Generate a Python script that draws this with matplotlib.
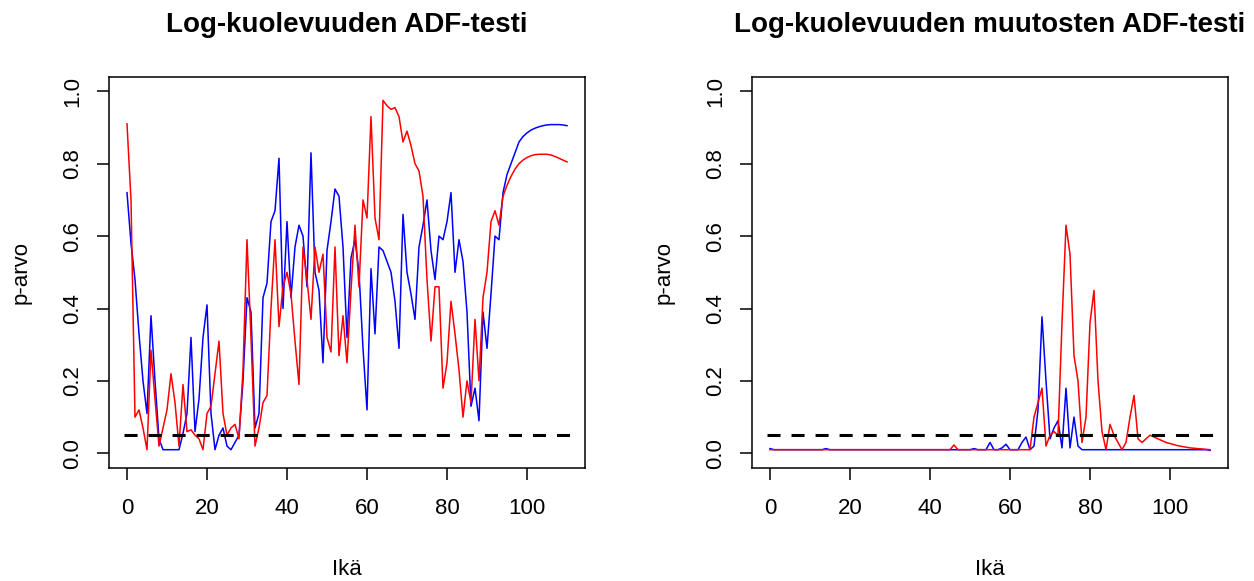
import matplotlib
matplotlib.use("Agg")
import matplotlib.pyplot as plt
import numpy as np

plt.rcParams['font.family'] = ['Liberation Sans', 'DejaVu Sans']
plt.rcParams['lines.scale_dashes'] = False

ages = np.arange(0, 111)

# Left panel: ADF p-values of log mortality
left_blue = [0.72, 0.58, 0.48, 0.33, 0.20, 0.11, 0.38, 0.20, 0.04, 0.01,
             0.01, 0.01, 0.01, 0.01, 0.055, 0.11, 0.32, 0.06, 0.15, 0.32,
             0.41, 0.11, 0.01, 0.05, 0.07, 0.02, 0.01, 0.03, 0.05, 0.20,
             0.43, 0.39, 0.07, 0.11, 0.43, 0.47, 0.64, 0.67, 0.815, 0.40,
             0.64, 0.43, 0.57, 0.63, 0.60, 0.46, 0.83, 0.50, 0.45, 0.25,
             0.56, 0.64, 0.73, 0.71, 0.57, 0.32, 0.54, 0.59, 0.50, 0.29,
             0.12, 0.51, 0.33, 0.57, 0.56, 0.53, 0.50, 0.42, 0.29, 0.66,
             0.50, 0.44, 0.37, 0.57, 0.63, 0.70, 0.56, 0.48, 0.60, 0.59,
             0.64, 0.72, 0.50, 0.59, 0.53, 0.39, 0.13, 0.18, 0.09, 0.39,
             0.29, 0.44, 0.60, 0.59, 0.72, 0.77, 0.80, 0.83, 0.86, 0.875,
             0.885, 0.893, 0.898, 0.902, 0.905, 0.907, 0.908, 0.908, 0.908, 0.907,
             0.905]
left_red = [0.91, 0.70, 0.10, 0.12, 0.07, 0.01, 0.285, 0.15, 0.02, 0.07,
            0.12, 0.22, 0.14, 0.02, 0.19, 0.06, 0.065, 0.05, 0.04, 0.01,
            0.11, 0.13, 0.22, 0.31, 0.11, 0.05, 0.07, 0.08, 0.04, 0.23,
            0.59, 0.32, 0.02, 0.07, 0.14, 0.16, 0.40, 0.59, 0.35, 0.46,
            0.50, 0.44, 0.31, 0.19, 0.57, 0.48, 0.37, 0.57, 0.50, 0.55,
            0.32, 0.28, 0.57, 0.27, 0.38, 0.25, 0.45, 0.63, 0.46, 0.70,
            0.65, 0.93, 0.65, 0.59, 0.975, 0.96, 0.95, 0.955, 0.93, 0.86,
            0.89, 0.85, 0.80, 0.78, 0.71, 0.48, 0.31, 0.46, 0.46, 0.18,
            0.25, 0.42, 0.33, 0.23, 0.10, 0.20, 0.14, 0.37, 0.20, 0.43,
            0.50, 0.64, 0.67, 0.63, 0.71, 0.74, 0.765, 0.785, 0.80, 0.81,
            0.817, 0.822, 0.825, 0.826, 0.826, 0.826, 0.824, 0.82, 0.815, 0.81,
            0.805]

# Right panel: ADF p-values of changes in log mortality
right_blue = [0.013] + [0.01] * 13 + [0.013] + [0.01] * 36 + [0.013] + [0.01] * 2 + [
    0.01, 0.03, 0.01, 0.01, 0.015, 0.025, 0.01, 0.01, 0.01, 0.03,
    0.045, 0.01, 0.02, 0.12, 0.377, 0.20, 0.04, 0.07, 0.09, 0.015,
    0.18, 0.015, 0.10, 0.02, 0.01] + [0.01] * 31 + [0.008]
right_red = [0.01] * 46 + [0.023] + [0.01] * 19 + [
    0.10, 0.14, 0.18, 0.02, 0.05, 0.06, 0.05, 0.36, 0.63, 0.55,
    0.27, 0.20, 0.03, 0.10, 0.36, 0.45, 0.20, 0.06, 0.01, 0.08,
    0.05, 0.03, 0.01, 0.03, 0.10, 0.16, 0.04, 0.03, 0.04, 0.05,
    0.045, 0.04, 0.035, 0.03, 0.027, 0.024, 0.021, 0.019, 0.017, 0.015,
    0.014, 0.013, 0.012, 0.011, 0.01]

threshold = 0.05
titles = ["Log-kuolevuuden ADF-testi", "Log-kuolevuuden muutosten ADF-testi"]
xlabel = "Ikä"
ylabel = "p-arvo"
xticks = [0, 20, 40, 60, 80, 100]
yticks = [0.0, 0.2, 0.4, 0.6, 0.8, 1.0]

W, H = 1254, 581
fig = plt.figure(figsize=(W / 100, H / 100), dpi=100)

panels = [(109.4, left_blue, left_red), (752.4, right_blue, right_red)]
ax_w, ax_top, ax_bot = 475.2, 76.8, 467.8

for i, (x0, blue, red) in enumerate(panels):
    ax = fig.add_axes([x0 / W, 1 - ax_bot / H, ax_w / W, (ax_bot - ax_top) / H])
    ax.plot(ages, blue, color='#0000FF', lw=1.1)
    ax.plot(ages, red, color='#FF0000', lw=1.1)
    ax.plot([-0.8, 110.8], [threshold, threshold], color='black', lw=2.2,
            dashes=(9.4, 7.9))
    ax.set_xlim(-4.4, 114.4)
    ax.set_ylim(-0.04, 1.04)
    ax.set_xticks(xticks)
    ax.set_yticks(yticks)
    ax.set_xticklabels([str(t) for t in xticks])
    ax.set_yticklabels([f"{t:.1f}" for t in yticks], rotation=90, va='center')
    ax.tick_params(axis='both', direction='out', length=8.6, width=1.1,
                   labelsize=16, colors='black')
    ax.tick_params(axis='x', pad=13.5)
    ax.tick_params(axis='y', pad=10)
    for s in ax.spines.values():
        s.set_linewidth(1.1)
        s.set_color('black')
    cx = (x0 + ax_w / 2) / W
    fig.text(cx, 1 - 32 / H, titles[i], ha='center', va='baseline',
             fontsize=20, fontweight='bold')
    fig.text(cx, 1 - 575 / H, xlabel, ha='center', va='baseline', fontsize=16)
    fig.text((x0 - 88.5) / W, 1 - 272 / H, ylabel, ha='center', va='center',
             rotation=90, fontsize=16)

fig.savefig("out.png", dpi=100)
